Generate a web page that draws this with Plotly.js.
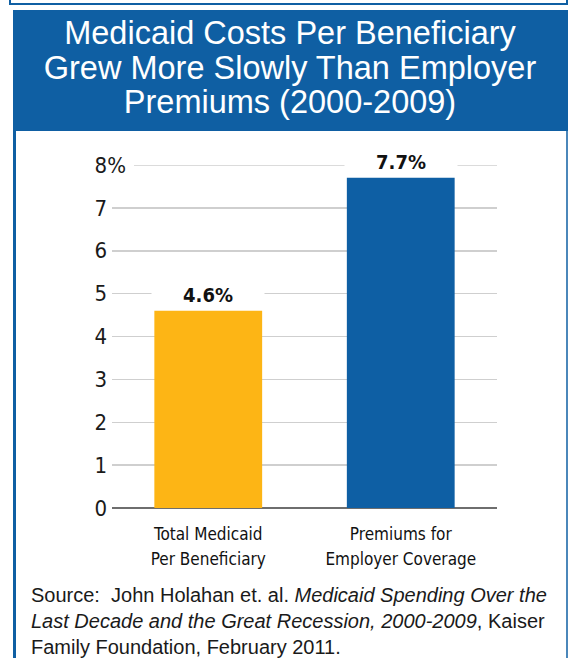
<!DOCTYPE html>
<html>
<head>
<meta charset="utf-8">
<script src="https://cdn.plot.ly/plotly-3.0.1.min.js"></script>
<style>
  html, body { margin: 0; padding: 0; background: #ffffff; }
  #chart { width: 569px; height: 658px; }
</style>
</head>
<body>
<div id="chart"></div>
<script>
// ---- data ----
const categories = ["Total Medicaid<br>Per Beneficiary", "Premiums for<br>Employer Coverage"];
const values = [4.6, 7.7];
const barColors = ["#FDB515", "#0E5FA4"];
const yTickVals = [0, 1, 2, 3, 4, 5, 6, 7, 8];
const yTickLabels = ["0", "1", "2", "3", "4", "5", "6", "7", "8%"];
const titleLines = ["Medicaid Costs Per Beneficiary", "Grew More Slowly Than Employer", "Premiums (2000-2009)"];
const sourceText = "Source:  John Holahan et. al. <i>Medicaid Spending Over the</i><br><i>Last Decade and the Great Recession, 2000-2009</i>, Kaiser<br>Family Foundation, February 2011.";

// ---- geometry helpers (plot area in pixels) ----
const PL = 112, PR = 497, PT = 165, PB = 508;
const W = 569, H = 658;
const px2x = p => (p - PL) / (PR - PL);
const py2y = p => (PB - p) / (PB - PT);

const narrow = "'DejaVu Sans Condensed', 'DejaVu Sans', sans-serif";
const sans = "'Liberation Sans', Arial, Helvetica, sans-serif";
const blue = "#0F5FA3";

// line height is driven by the outer font size; glyph size by the inner span
const sized = (lines, px) => lines.map(s => '<span style="font-size:' + px + 'px">' + s + '</span>').join('<br>');

// tick labels padded with an invisible % so digits line up on the left like the reference
const yTickText = yTickLabels.map(t => t.endsWith('%') ? t : t + '<span style="color:rgba(0,0,0,0)">%</span>');
const xTickText = categories.map(c => sized(c.split('<br>'), 17));

const traces = [
  {
    type: 'bar',
    x: categories,
    y: values,
    marker: { color: barColors, line: { width: 0 } },
    hoverinfo: 'skip',
    showlegend: false
  },
  {
    type: 'scatter',
    x: [],
    y: [],
    yaxis: 'y2',
    hoverinfo: 'skip',
    showlegend: false
  }
];

const annotations = values.map((v, i) => ({
  x: categories[i],
  y: v,
  xref: 'x',
  yref: 'y',
  text: '<b>' + v.toFixed(1) + '%</b>',
  showarrow: false,
  yanchor: 'bottom',
  yshift: 3,
  bgcolor: '#ffffff',
  width: 112,
  borderpad: 0,
  font: { family: narrow, size: 20, color: '#111111' }
}));

annotations.push({
  xref: 'paper', yref: 'paper',
  x: px2x(29), y: py2y(582),
  xanchor: 'left', yanchor: 'top',
  align: 'left',
  showarrow: false,
  text: sourceText,
  font: { family: sans, size: 20, color: '#1a1a1a' }
});

const shapes = [
  // top thin frame
  { type: 'rect', xref: 'paper', yref: 'paper', layer: 'below',
    x0: px2x(10), x1: px2x(567), y0: py2y(4), y1: py2y(-10),
    line: { color: blue, width: 2 }, fillcolor: 'rgba(0,0,0,0)' },
  // header band
  { type: 'rect', xref: 'paper', yref: 'paper', layer: 'below',
    x0: px2x(13), x1: px2x(568), y0: py2y(131), y1: py2y(10),
    line: { width: 0 }, fillcolor: blue },
  // left border
  { type: 'line', xref: 'paper', yref: 'paper', layer: 'below',
    x0: px2x(14.5), x1: px2x(14.5), y0: py2y(131), y1: py2y(670),
    line: { color: blue, width: 3 } },
  // right border
  { type: 'line', xref: 'paper', yref: 'paper', layer: 'below',
    x0: px2x(567), x1: px2x(567), y0: py2y(131), y1: py2y(670),
    line: { color: blue, width: 1.5 } },
  // top gridline (starts after the 8% label)
  { type: 'line', xref: 'paper', yref: 'y', layer: 'below',
    x0: px2x(134), x1: 1, y0: 8, y1: 8,
    line: { color: '#cfcfcf', width: 1.5 } }
];

const layout = {
  width: W, height: H,
  margin: { l: PL, r: W - PR, t: PT, b: H - PB, pad: 0 },
  paper_bgcolor: '#ffffff',
  plot_bgcolor: '#ffffff',
  showlegend: false,
  bargap: 0.44,
  title: {
    text: sized(titleLines, 32.5),
    xref: 'container', yref: 'container',
    x: 290 / W, xanchor: 'center',
    y: 1 - 44 / H, yanchor: 'middle',
    font: { family: sans, size: 26.7, color: '#ffffff' }
  },
  xaxis: {
    type: 'category',
    tickmode: 'array',
    tickvals: categories,
    ticktext: xTickText,
    showgrid: false, zeroline: false, showline: false,
    ticks: 'outside', ticklen: 8, tickcolor: 'rgba(0,0,0,0)',
    tickfont: { family: narrow, size: 19.3, color: '#111111' },
    fixedrange: true
  },
  yaxis: {
    range: [0, 8],
    tickvals: yTickVals.slice(0, 8),
    showticklabels: false,
    ticks: '',
    showgrid: true, gridcolor: '#cfcfcf', gridwidth: 1.5,
    zeroline: true, zerolinecolor: '#6e6e6e', zerolinewidth: 2,
    showline: false,
    fixedrange: true
  },
  yaxis2: {
    overlaying: 'y',
    anchor: 'free',
    position: px2x(126),
    side: 'left',
    range: [0, 8],
    tickmode: 'array',
    tickvals: yTickVals,
    ticktext: yTickText,
    ticks: '',
    showgrid: false, zeroline: false, showline: false,
    tickfont: { family: narrow, size: 22, color: '#1a1a1a' },
    fixedrange: true
  },
  shapes: shapes,
  annotations: annotations
};

Plotly.newPlot('chart', traces, layout, { staticPlot: true, displayModeBar: false });
</script>
</body>
</html>
